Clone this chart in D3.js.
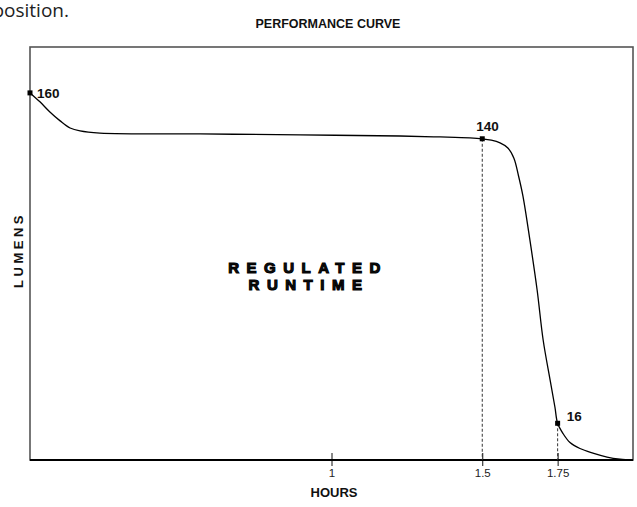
<!DOCTYPE html>
<html>
<head>
<meta charset="utf-8">
<script src="https://cdn.jsdelivr.net/npm/d3@7"></script>
<style>
  body { margin: 0; background: #fff; }
  svg { display: block; }
  .bold { font-family: "Liberation Sans", Arial, sans-serif; font-weight: bold; fill: #111; }
</style>
</head>
<body>
<div id="chart"></div>
<script>
// curve (hours, lumens)
var hours = [0, 0.033, 0.066, 0.1, 0.133, 0.166, 0.232, 0.564, 0.896, 1.227, 1.36, 1.459, 1.5,
  1.53, 1.559, 1.585, 1.605, 1.62, 1.635, 1.658, 1.682, 1.702, 1.725, 1.741, 1.75,
  1.768, 1.791, 1.824, 1.867, 1.914, 1.957, 2.0];
var lumens = [160, 156.1, 151.7, 147.8, 144.7, 143.4, 142.5, 142.1, 141.7, 141.2, 140.8, 140.4, 140,
  139.4, 138.2, 136, 131.5, 124, 115, 95.9, 74.1, 52.3, 34.9, 23.1, 16,
  11.5, 7.6, 5.0, 3.0, 1.3, 0.4, 0];

// marked points
var markHours = [0, 1.5, 1.75];
var markLumens = [160, 140, 16];
var markLabels = ["160", "140", "16"];

// x axis ticks
var tickValues = [1, 1.5, 1.75];
var tickLabels = ["1", "1.5", "1.75"];

var svgWidth = 637;
var svgHeight = 507;

var margin = { top: 47, right: 4, bottom: 47, left: 30 };
var width = svgWidth - margin.left - margin.right;
var height = svgHeight - margin.top - margin.bottom;

var svg = d3.select("#chart")
  .append("svg")
  .attr("width", svgWidth)
  .attr("height", svgHeight);

// stray text from the page above the chart (cut at the left edge, as in the picture)
svg.append("text")
  .attr("x", 69)
  .attr("y", 17)
  .attr("text-anchor", "end")
  .style("font-family", "'Open Sans', 'Noto Sans', sans-serif")
  .style("font-size", "19px")
  .attr("fill", "#222")
  .text("position.");

var chartGroup = svg.append("g")
  .attr("transform", `translate(${margin.left}, ${margin.top})`);

var xScale = d3.scaleLinear().domain([0, 2]).range([0, width]);
var yScale = d3.scaleLinear().domain([0, 180]).range([height, 0]);

// frame
chartGroup.append("rect")
  .attr("x", 0)
  .attr("y", 0)
  .attr("width", width)
  .attr("height", height)
  .attr("fill", "none")
  .attr("stroke", "#555")
  .attr("stroke-width", 1.6);

// bottom axis
var bottomAxis = d3.axisBottom(xScale)
  .tickValues(tickValues)
  .tickFormat((d, i) => tickLabels[i])
  .tickSize(6)
  .tickPadding(3);

var xAxis = chartGroup.append("g")
  .attr("transform", `translate(0, ${height})`)
  .call(bottomAxis);
xAxis.select(".domain").remove();
xAxis.selectAll(".tick line").attr("y1", -7).attr("stroke", "#111");
xAxis.selectAll(".tick text")
  .style("font-family", "'Liberation Sans Narrow', 'Arial Narrow', 'Liberation Sans', sans-serif")
  .style("font-size", "11.5px")
  .attr("fill", "#222");

chartGroup.append("line")
  .attr("x1", 0)
  .attr("x2", width)
  .attr("y1", height)
  .attr("y2", height)
  .attr("stroke", "#000")
  .attr("stroke-width", 2);

// dashed drop lines
chartGroup.selectAll(".drop")
  .data(markHours.slice(1))
  .enter()
  .append("line")
  .attr("class", "drop")
  .attr("x1", d => xScale(d))
  .attr("x2", d => xScale(d))
  .attr("y1", (d, i) => yScale(markLumens[i + 1]))
  .attr("y2", height)
  .attr("stroke", "#333")
  .attr("stroke-width", 1)
  .attr("stroke-dasharray", "3,2");

// curve
var line = d3.line()
  .x((d, i) => xScale(hours[i]))
  .y(d => yScale(d))
  .curve(d3.curveCatmullRom.alpha(0.5));

chartGroup.append("path")
  .datum(lumens)
  .attr("d", line)
  .attr("fill", "none")
  .attr("stroke", "#000")
  .attr("stroke-width", 1.3);

// markers
chartGroup.selectAll(".mark")
  .data(markHours)
  .enter()
  .append("rect")
  .attr("class", "mark")
  .attr("x", d => xScale(d) - 2.5)
  .attr("y", (d, i) => yScale(markLumens[i]) - 2.5)
  .attr("width", 5)
  .attr("height", 5)
  .attr("fill", "#000");

var labelDx = [7, -6, 9];
var labelDy = [5, -8, -2];
chartGroup.selectAll(".markLabel")
  .data(markLabels)
  .enter()
  .append("text")
  .attr("class", "bold")
  .attr("x", (d, i) => xScale(markHours[i]) + labelDx[i])
  .attr("y", (d, i) => yScale(markLumens[i]) + labelDy[i])
  .style("font-size", "13.5px")
  .text(d => d);

// titles
svg.append("text")
  .attr("class", "bold")
  .attr("x", 328)
  .attr("y", 28)
  .attr("text-anchor", "middle")
  .style("font-size", "12.5px")
  .text("PERFORMANCE CURVE");

svg.append("text")
  .attr("class", "bold")
  .attr("x", 334)
  .attr("y", 497)
  .attr("text-anchor", "middle")
  .style("font-size", "13px")
  .text("HOURS");

svg.append("text")
  .attr("class", "bold")
  .attr("transform", "translate(23, 250) rotate(-90)")
  .attr("text-anchor", "middle")
  .style("font-size", "13px")
  .style("letter-spacing", "3.5px")
  .text("LUMENS");

// centre caption
var caption = svg.append("text")
  .attr("class", "bold")
  .attr("text-anchor", "middle")
  .style("font-size", "15px")
  .style("letter-spacing", "7.5px")
  .attr("fill", "#000")
  .attr("stroke", "#000")
  .attr("stroke-width", 1.1);
caption.append("tspan").attr("x", 308).attr("y", 273).text("REGULATED");
caption.append("tspan").attr("x", 309).attr("y", 289.5).text("RUNTIME");
</script>
</body>
</html>
